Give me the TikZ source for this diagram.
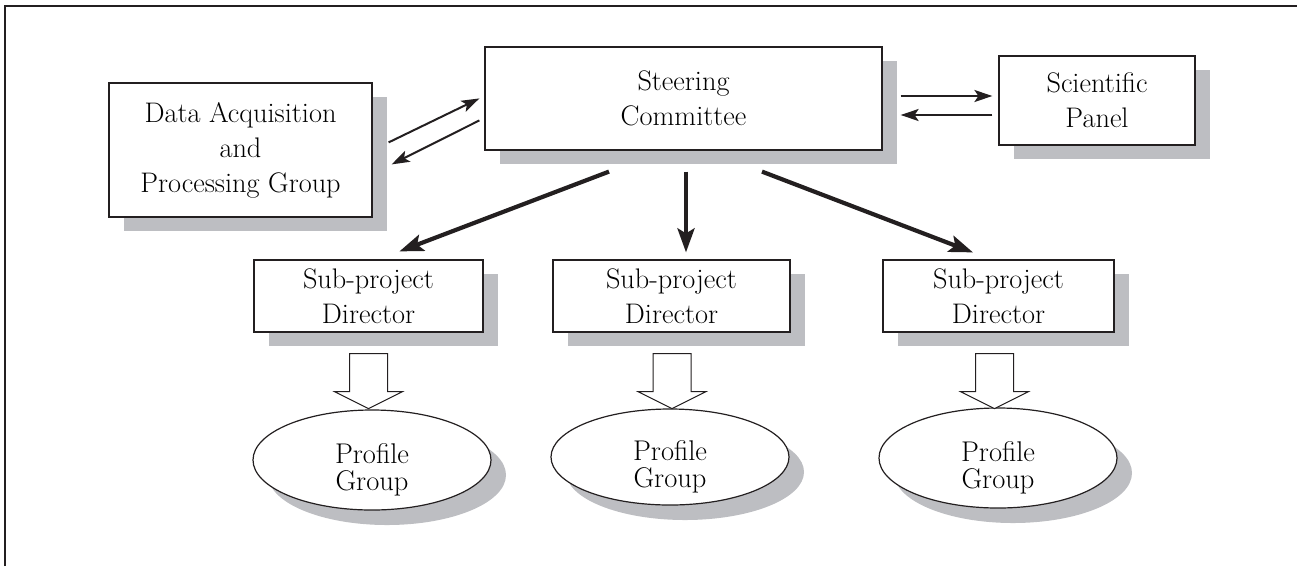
\documentclass[tikz,border=0pt]{standalone}
\usepackage{fontspec}
\usetikzlibrary{arrows.meta,shadows,shapes.geometric}
\definecolor{shadowc}{RGB}{189,190,194}
\definecolor{linec}{RGB}{35,31,32}
\newcommand{\ovaltext}[1]{\raisebox{-16pt}[0pt][0pt]{\parbox{110pt}{\centering #1}}}
\begin{document}
\begin{tikzpicture}[x=1pt,y=-1pt,
  shad/.style={drop shadow={shadow xshift=15pt,shadow yshift=-14pt,fill=shadowc,opacity=1}},
  box/.style={rectangle,draw=linec,line width=1.2pt,fill=white,inner sep=0pt,align=center,
    font=\fontsize{28.3}{35}\selectfont,shad},
  oval/.style={ellipse,draw=linec,line width=1.2pt,fill=white,inner sep=0pt,
    minimum width=238pt,minimum height=100pt,font=\fontsize{28.5}{27}\selectfont,
    drop shadow={shadow xshift=15pt,shadow yshift=-15pt,fill=shadowc,opacity=1}},
  thin/.style={draw=linec,line width=2pt,-{Stealth[length=18pt,width=12pt,inset=4pt]}},
  thick/.style={draw=linec,line width=4.2pt,-{Stealth[length=24pt,width=17pt,inset=5pt]}},
  blockarr/.style={draw=linec,line width=1pt,fill=white,line join=miter}
]
\useasboundingbox (0,0) rectangle (1297,566);
\draw[linec,line width=1.3pt] (5,566) -- (5,6) -- (1297,6);

\node[box,minimum width=263pt,minimum height=134pt] (data) at (240.5,150) {Data Acquisition\\and\\Processing Group};
\node[box,minimum width=397pt,minimum height=103pt] (steer) at (683.5,98.5) {Steering\\Committee};
\node[box,minimum width=196pt,minimum height=89pt] (panel) at (1097,100.5) {Scientific\\Panel};

\node[box,minimum width=229pt,minimum height=72pt] (sub1) at (368.5,296) {Sub-project\\Director};
\node[box,minimum width=237pt,minimum height=72pt] (sub2) at (671.5,296) {Sub-project\\Director};
\node[box,minimum width=231pt,minimum height=72pt] (sub3) at (998.5,296) {Sub-project\\Director};

\node[oval] (pg1) at (372,460) {\ovaltext{Profile\\Group}};
\node[oval,minimum height=96pt] (pg2) at (670,457) {\ovaltext{Profile\\Group}};
\node[oval] (pg3) at (998,458) {\ovaltext{Profile\\Group}};

% thin arrows
\draw[thin] ([shift={(16,60)}]data.north east) -- ([shift={(-5,52)}]steer.north west);
\draw[thin] ([shift={(-5,74)}]steer.north west) -- ([shift={(19,82)}]data.north east);
\draw[thin] ([shift={(18,-2.5)}]steer.east) -- ([shift={(-6,-4.5)}]panel.west);
\draw[thin] ([shift={(-6,14.5)}]panel.west) -- ([shift={(18,16.5)}]steer.east);

% thick arrows
\draw[thick] ([shift={(-74.5,21)}]steer.south) -- ([shift={(146,-8)}]sub1.north west);
\draw[thick] ([shift={(2.5,21)}]steer.south) -- ([shift={(14.5,-7)}]sub2.north);
\draw[thick] ([shift={(78.5,21)}]steer.south) -- ([shift={(-25.5,-7)}]sub3.north);

% block arrows
\foreach \s/\dx in {sub1/0,sub2/0.5,sub3/-4}{
  \draw[blockarr] ([xshift=\dx pt]\s.south) ++(-19,21) -- ++(0,38) -- ++(-15,0) -- ++(34,17)
    -- ++(34,-17) -- ++(-15,0) -- ++(0,-38) -- cycle;
}
\end{tikzpicture}
\end{document}
